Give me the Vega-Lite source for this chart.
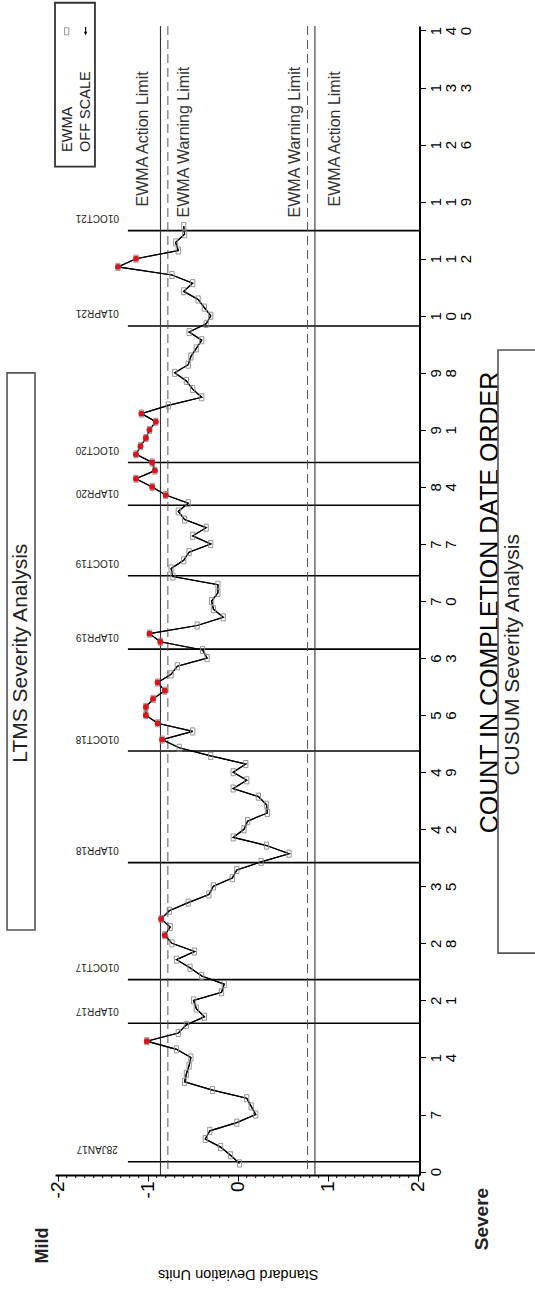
{
  "$schema": "https://vega.github.io/schema/vega-lite/v6.json",
  "width": 364.5,
  "height": 1149,
  "autosize": {"type": "none"},
  "padding": {"left": 55, "top": 26, "right": 115.5, "bottom": 114},
  "background": "white",
  "config": {"view": {"stroke": null}, "font": "Liberation Sans", "axis": {"grid": false}},
  "datasets": {
    "ewma": [
      {"n":1,"ewma":0.02,"alarm":false},{"n":2,"ewma":-0.08,"alarm":false},{"n":3,"ewma":-0.19,"alarm":false},{"n":4,"ewma":-0.36,"alarm":false},
      {"n":5,"ewma":-0.31,"alarm":false},{"n":6,"ewma":-0.01,"alarm":false},{"n":7,"ewma":0.20,"alarm":false},{"n":8,"ewma":0.15,"alarm":false},
      {"n":9,"ewma":0.10,"alarm":false},{"n":10,"ewma":-0.28,"alarm":false},{"n":11,"ewma":-0.59,"alarm":false},{"n":12,"ewma":-0.57,"alarm":false},
      {"n":13,"ewma":-0.54,"alarm":false},{"n":14,"ewma":-0.52,"alarm":false},{"n":15,"ewma":-0.68,"alarm":false},{"n":16,"ewma":-1.01,"alarm":true},
      {"n":17,"ewma":-0.66,"alarm":false},{"n":18,"ewma":-0.57,"alarm":false},{"n":19,"ewma":-0.37,"alarm":false},{"n":20,"ewma":-0.46,"alarm":false},
      {"n":21,"ewma":-0.49,"alarm":false},{"n":22,"ewma":-0.18,"alarm":false},{"n":23,"ewma":-0.15,"alarm":false},{"n":24,"ewma":-0.40,"alarm":false},
      {"n":25,"ewma":-0.53,"alarm":false},{"n":26,"ewma":-0.68,"alarm":false},{"n":27,"ewma":-0.48,"alarm":false},{"n":28,"ewma":-0.73,"alarm":false},
      {"n":29,"ewma":-0.81,"alarm":true},{"n":30,"ewma":-0.75,"alarm":false},{"n":31,"ewma":-0.85,"alarm":true},{"n":32,"ewma":-0.76,"alarm":false},
      {"n":33,"ewma":-0.55,"alarm":false},{"n":34,"ewma":-0.32,"alarm":false},{"n":35,"ewma":-0.27,"alarm":false},{"n":36,"ewma":-0.06,"alarm":false},
      {"n":37,"ewma":-0.01,"alarm":false},{"n":38,"ewma":0.26,"alarm":false},{"n":39,"ewma":0.57,"alarm":false},{"n":40,"ewma":0.32,"alarm":false},
      {"n":41,"ewma":-0.05,"alarm":false},{"n":42,"ewma":0.07,"alarm":false},{"n":43,"ewma":0.11,"alarm":false},{"n":44,"ewma":0.33,"alarm":false},
      {"n":45,"ewma":0.32,"alarm":false},{"n":46,"ewma":0.23,"alarm":false},{"n":47,"ewma":-0.05,"alarm":false},{"n":48,"ewma":0.10,"alarm":false},
      {"n":49,"ewma":-0.05,"alarm":false},{"n":50,"ewma":0.09,"alarm":false},{"n":51,"ewma":-0.30,"alarm":false},{"n":52,"ewma":-0.65,"alarm":false},
      {"n":53,"ewma":-0.84,"alarm":true},{"n":54,"ewma":-0.50,"alarm":false},{"n":55,"ewma":-0.89,"alarm":true},{"n":56,"ewma":-1.02,"alarm":true},
      {"n":57,"ewma":-1.02,"alarm":true},{"n":58,"ewma":-0.94,"alarm":true},{"n":59,"ewma":-0.81,"alarm":true},{"n":60,"ewma":-0.89,"alarm":true},
      {"n":61,"ewma":-0.74,"alarm":false},{"n":62,"ewma":-0.67,"alarm":false},{"n":63,"ewma":-0.34,"alarm":false},{"n":64,"ewma":-0.39,"alarm":false},
      {"n":65,"ewma":-0.86,"alarm":true},{"n":66,"ewma":-0.98,"alarm":true},{"n":67,"ewma":-0.45,"alarm":false},{"n":68,"ewma":-0.16,"alarm":false},
      {"n":69,"ewma":-0.27,"alarm":false},{"n":70,"ewma":-0.29,"alarm":false},{"n":71,"ewma":-0.22,"alarm":false},{"n":72,"ewma":-0.22,"alarm":false},
      {"n":73,"ewma":-0.72,"alarm":false},{"n":74,"ewma":-0.74,"alarm":false},{"n":75,"ewma":-0.60,"alarm":false},{"n":76,"ewma":-0.54,"alarm":false},
      {"n":77,"ewma":-0.30,"alarm":false},{"n":78,"ewma":-0.50,"alarm":false},{"n":79,"ewma":-0.35,"alarm":false},{"n":80,"ewma":-0.59,"alarm":false},
      {"n":81,"ewma":-0.66,"alarm":false},{"n":82,"ewma":-0.55,"alarm":false},{"n":83,"ewma":-0.80,"alarm":true},{"n":84,"ewma":-0.95,"alarm":true},
      {"n":85,"ewma":-1.13,"alarm":true},{"n":86,"ewma":-0.92,"alarm":true},{"n":87,"ewma":-0.95,"alarm":true},{"n":88,"ewma":-1.13,"alarm":true},
      {"n":89,"ewma":-1.08,"alarm":true},{"n":90,"ewma":-1.02,"alarm":true},{"n":91,"ewma":-0.98,"alarm":true},{"n":92,"ewma":-0.91,"alarm":true},
      {"n":93,"ewma":-1.07,"alarm":true},{"n":94,"ewma":-0.77,"alarm":false},{"n":95,"ewma":-0.40,"alarm":false},{"n":96,"ewma":-0.50,"alarm":false},
      {"n":97,"ewma":-0.57,"alarm":false},{"n":98,"ewma":-0.70,"alarm":false},{"n":99,"ewma":-0.55,"alarm":false},{"n":100,"ewma":-0.52,"alarm":false},
      {"n":101,"ewma":-0.46,"alarm":false},{"n":102,"ewma":-0.40,"alarm":false},{"n":103,"ewma":-0.54,"alarm":false},{"n":104,"ewma":-0.35,"alarm":false},
      {"n":105,"ewma":-0.30,"alarm":false},{"n":106,"ewma":-0.37,"alarm":false},{"n":107,"ewma":-0.44,"alarm":false},{"n":108,"ewma":-0.60,"alarm":false},
      {"n":109,"ewma":-0.50,"alarm":false},{"n":110,"ewma":-0.73,"alarm":false},{"n":111,"ewma":-1.33,"alarm":true},{"n":112,"ewma":-1.13,"alarm":true},
      {"n":113,"ewma":-0.66,"alarm":false},{"n":114,"ewma":-0.69,"alarm":false},{"n":115,"ewma":-0.59,"alarm":false},{"n":116,"ewma":-0.60,"alarm":false}
    ],
    "dates": [
      {"n":1.2,"label":"28JAN17"},{"n":18.2,"label":"01APR17"},{"n":23.55,"label":"01OCT17"},{"n":37.9,"label":"01APR18"},
      {"n":51.6,"label":"01OCT18"},{"n":64.1,"label":"01APR19"},{"n":73.1,"label":"01OCT19"},{"n":81.75,"label":"01APR20"},
      {"n":87.0,"label":"01OCT20"},{"n":103.75,"label":"01APR21"},{"n":115.45,"label":"01OCT21"}
    ],
    "limits": [
      {"sd":-0.858,"limit":"Action"},{"sd":0.858,"limit":"Action"},
      {"sd":-0.776,"limit":"Warning"},{"sd":0.776,"limit":"Warning"}
    ],
    "sdMinorTicks": [
      {"sd":-1.9},{"sd":-1.8},{"sd":-1.7},{"sd":-1.6},{"sd":-1.5},{"sd":-1.4},{"sd":-1.3},{"sd":-1.2},{"sd":-1.1},
      {"sd":-0.9},{"sd":-0.8},{"sd":-0.7},{"sd":-0.6},{"sd":-0.5},{"sd":-0.4},{"sd":-0.3},{"sd":-0.2},{"sd":-0.1},
      {"sd":0.1},{"sd":0.2},{"sd":0.3},{"sd":0.4},{"sd":0.5},{"sd":0.6},{"sd":0.7},{"sd":0.8},{"sd":0.9},
      {"sd":1.1},{"sd":1.2},{"sd":1.3},{"sd":1.4},{"sd":1.5},{"sd":1.6},{"sd":1.7},{"sd":1.8},{"sd":1.9}
    ]
  },
  "layer": [
    {
      "data": {"name": "ewma"},
      "mark": {"type": "line", "color": "black", "strokeWidth": 1.2},
      "encoding": {
        "x": {
          "field": "ewma", "type": "quantitative",
          "scale": {"domain": [-2.03, 2.02], "nice": false, "zero": false},
          "axis": {
            "title": "Standard Deviation Units",
            "values": [-2, -1, 0, 1, 2],
            "labelExpr": "'' + datum.value",
            "labelAngle": 270, "labelAlign": "right", "labelBaseline": "middle",
            "labelFontSize": 19, "labelColor": "black", "labelPadding": 0,
            "labelOverlap": false, "labelFlush": false, "labelBound": false,
            "tickSize": 6, "tickColor": "black", "tickWidth": 1,
            "domainColor": "black", "domainWidth": 2,
            "titleAngle": 180, "titleFontSize": 14.5, "titleFontWeight": "normal", "titleColor": "black",
            "titleX": 182.7, "titleY": 98, "titleAlign": "center", "titleBaseline": "middle"
          }
        },
        "y": {
          "field": "n", "type": "quantitative",
          "scale": {"domain": [-0.42, 140.55], "nice": false, "zero": false},
          "axis": {
            "orient": "right",
            "title": "COUNT IN COMPLETION DATE ORDER",
            "values": [0,1.75,3.5,5.25,7,8.75,10.5,12.25,14,15.75,17.5,19.25,21,22.75,24.5,26.25,28,29.75,31.5,33.25,35,36.75,38.5,40.25,42,43.75,45.5,47.25,49,50.75,52.5,54.25,56,57.75,59.5,61.25,63,64.75,66.5,68.25,70,71.75,73.5,75.25,77,78.75,80.5,82.25,84,85.75,87.5,89.25,91,92.75,94.5,96.25,98,99.75,101.5,103.25,105,106.75,108.5,110.25,112,113.75,115.5,117.25,119,120.75,122.5,124.25,126,127.75,129.5,131.25,133,134.75,136.5,138.25,140],
            "labelExpr": "datum.value % 7 === 0 ? split('' + datum.value, '') : ''",
            "labelAngle": 270, "labelAlign": "center", "labelBaseline": "top",
            "labelLineHeight": 15, "labelFontSize": 15,
            "labelColor": "black", "labelPadding": 3,
            "labelOverlap": false, "labelFlush": false, "labelBound": false,
            "tickSize": {"condition": {"test": "datum.value % 7 === 0", "value": 6}, "value": 3},
            "tickColor": "black", "tickWidth": 1,
            "domainColor": "black", "domainWidth": 2,
            "titleAngle": 270, "titleFontSize": 25, "titleFontWeight": "normal", "titleColor": "black",
            "titleX": 70, "titleY": 576, "titleAlign": "center", "titleBaseline": "middle"
          }
        },
        "order": {"field": "n", "type": "quantitative"}
      }
    },
    {
      "data": {"name": "sdMinorTicks"},
      "mark": {"type": "rule", "color": "black", "strokeWidth": 1},
      "encoding": {
        "x": {"field": "sd", "type": "quantitative"},
        "y": {"datum": -0.42, "type": "quantitative"},
        "y2": {"datum": -0.8}
      }
    },
    {
      "data": {"name": "dates"},
      "mark": {"type": "rule", "color": "black", "strokeWidth": 1.6},
      "encoding": {
        "y": {"field": "n", "type": "quantitative"},
        "x": {"datum": -1.22, "type": "quantitative"},
        "x2": {"datum": 2.02}
      }
    },
    {
      "data": {"name": "limits"},
      "transform": [{"filter": "datum.limit === 'Action'"}],
      "mark": {"type": "rule", "color": "#333333", "strokeWidth": 1.1},
      "encoding": {"x": {"field": "sd", "type": "quantitative"}}
    },
    {
      "data": {"name": "limits"},
      "transform": [{"filter": "datum.limit === 'Warning'"}],
      "mark": {"type": "rule", "color": "#555555", "strokeWidth": 1, "strokeDash": [9, 5]},
      "encoding": {"x": {"field": "sd", "type": "quantitative"}}
    },
    {
      "data": {"name": "ewma"},
      "mark": {"type": "line", "color": "black", "strokeWidth": 1.2},
      "encoding": {
        "x": {"field": "ewma", "type": "quantitative"},
        "y": {"field": "n", "type": "quantitative"},
        "order": {"field": "n", "type": "quantitative"}
      }
    },
    {
      "data": {"name": "ewma"},
      "mark": {"type": "point", "shape": "M-0.6,-1H0.6V1H-0.6Z", "filled": false, "stroke": "#8a8a8a", "strokeWidth": 0.9, "size": 50, "opacity": 1},
      "encoding": {
        "x": {"field": "ewma", "type": "quantitative"},
        "y": {"field": "n", "type": "quantitative"}
      }
    },
    {
      "data": {"name": "ewma"},
      "transform": [{"filter": "datum.alarm"}],
      "mark": {"type": "point", "shape": "circle", "filled": true, "color": "#d8141c", "size": 34, "opacity": 1},
      "encoding": {
        "x": {"field": "ewma", "type": "quantitative"},
        "y": {"field": "n", "type": "quantitative"}
      }
    },
    {
      "data": {"name": "dates"},
      "mark": {"type": "text", "angle": 180, "align": "center", "baseline": "middle", "dy": 12.5, "fontSize": 10, "color": "#222222"},
      "encoding": {
        "x": {"datum": -1.56, "type": "quantitative"},
        "y": {"field": "n", "type": "quantitative"},
        "text": {"field": "label"}
      }
    },
    {
      "data": {"values": [{}]},
      "mark": {"type": "text", "text": "EWMA Action Limit", "angle": 270, "align": "center", "baseline": "middle", "fontSize": 16, "color": "#333333"},
      "encoding": {"x": {"datum": -1.049, "type": "quantitative"}, "y": {"datum": 126.7, "type": "quantitative"}}
    },
    {
      "data": {"values": [{}]},
      "mark": {"type": "text", "text": "EWMA Warning Limit", "angle": 270, "align": "center", "baseline": "middle", "fontSize": 16, "color": "#333333"},
      "encoding": {"x": {"datum": -0.593, "type": "quantitative"}, "y": {"datum": 126.3, "type": "quantitative"}}
    },
    {
      "data": {"values": [{}]},
      "mark": {"type": "text", "text": "EWMA Warning Limit", "angle": 270, "align": "center", "baseline": "middle", "fontSize": 16, "color": "#333333"},
      "encoding": {"x": {"datum": 0.637, "type": "quantitative"}, "y": {"datum": 126.3, "type": "quantitative"}}
    },
    {
      "data": {"values": [{}]},
      "mark": {"type": "text", "text": "EWMA Action Limit", "angle": 270, "align": "center", "baseline": "middle", "fontSize": 16, "color": "#333333"},
      "encoding": {"x": {"datum": 1.081, "type": "quantitative"}, "y": {"datum": 126.7, "type": "quantitative"}}
    },
    {
      "data": {"values": [{}]},
      "mark": {"type": "rect", "filled": false, "stroke": "#333333", "strokeWidth": 1.8},
      "encoding": {
        "x": {"datum": -2.03, "type": "quantitative"}, "x2": {"datum": -1.586},
        "y": {"datum": 143.4, "type": "quantitative"}, "y2": {"datum": 123.3}
      }
    },
    {
      "data": {"values": [{}]},
      "mark": {"type": "text", "text": "EWMA", "angle": 270, "align": "left", "baseline": "middle", "fontSize": 14.5, "color": "#222222"},
      "encoding": {"x": {"datum": -1.891, "type": "quantitative"}, "y": {"datum": 125.1, "type": "quantitative"}}
    },
    {
      "data": {"values": [{}]},
      "mark": {"type": "text", "text": "OFF SCALE", "angle": 270, "align": "left", "baseline": "middle", "fontSize": 14.5, "color": "#222222"},
      "encoding": {"x": {"datum": -1.686, "type": "quantitative"}, "y": {"datum": 125.1, "type": "quantitative"}}
    },
    {
      "data": {"values": [{}]},
      "mark": {"type": "point", "shape": "M-0.6,-1H0.6V1H-0.6Z", "filled": false, "stroke": "#8a8a8a", "strokeWidth": 0.9, "size": 50, "opacity": 1},
      "encoding": {"x": {"datum": -1.9, "type": "quantitative"}, "y": {"datum": 139.9, "type": "quantitative"}}
    },
    {
      "data": {"values": [{}]},
      "mark": {"type": "point", "shape": "arrow", "angle": 180, "filled": true, "color": "black", "size": 70, "opacity": 1},
      "encoding": {"x": {"datum": -1.69, "type": "quantitative"}, "y": {"datum": 139.9, "type": "quantitative"}}
    },
    {
      "data": {"values": [{}]},
      "mark": {"type": "rect", "filled": false, "stroke": "#555555", "strokeWidth": 1.6},
      "encoding": {
        "x": {"datum": -2.563, "type": "quantitative"}, "x2": {"datum": -2.252},
        "y": {"datum": 29.64, "type": "quantitative"}, "y2": {"datum": 97.99}
      }
    },
    {
      "data": {"values": [{}]},
      "mark": {"type": "text", "text": "LTMS Severity Analysis", "angle": 270, "align": "center", "baseline": "middle", "fontSize": 21, "color": "#222222"},
      "encoding": {"x": {"datum": -2.408, "type": "quantitative"}, "y": {"datum": 63.6, "type": "quantitative"}}
    },
    {
      "data": {"values": [{}]},
      "mark": {"type": "rect", "filled": false, "stroke": "#555555", "strokeWidth": 1.6},
      "encoding": {
        "x": {"datum": 2.892, "type": "quantitative"}, "x2": {"datum": 3.4},
        "y": {"datum": 26.8, "type": "quantitative"}, "y2": {"datum": 100.8}
      }
    },
    {
      "data": {"values": [{}]},
      "mark": {"type": "text", "text": "CUSUM Severity Analysis", "angle": 270, "align": "center", "baseline": "middle", "fontSize": 21, "color": "#222222"},
      "encoding": {"x": {"datum": 3.064, "type": "quantitative"}, "y": {"datum": 63.4, "type": "quantitative"}}
    },
    {
      "data": {"values": [{}]},
      "mark": {"type": "text", "text": "Mild", "angle": 270, "align": "center", "baseline": "middle", "fontSize": 18, "fontWeight": "bold", "color": "#222222"},
      "encoding": {"x": {"datum": -2.158, "type": "quantitative"}, "y": {"datum": -9.07, "type": "quantitative"}}
    },
    {
      "data": {"values": [{}]},
      "mark": {"type": "text", "text": "Severe", "angle": 270, "align": "center", "baseline": "middle", "fontSize": 19, "fontWeight": "bold", "color": "#222222"},
      "encoding": {"x": {"datum": 2.711, "type": "quantitative"}, "y": {"datum": -5.82, "type": "quantitative"}}
    }
  ]
}
